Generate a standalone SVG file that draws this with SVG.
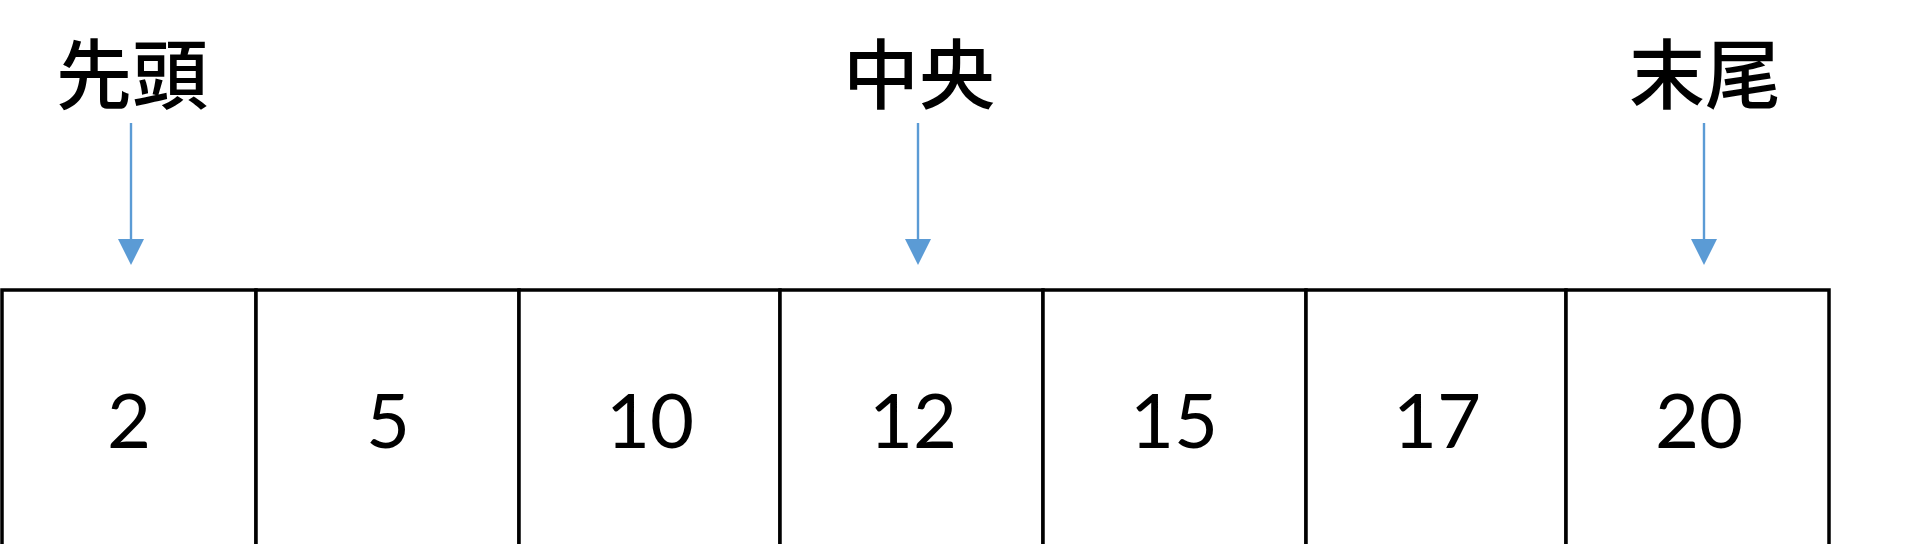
<svg xmlns="http://www.w3.org/2000/svg" width="1920" height="544" viewBox="0 0 1920 544">
<style>
.lbl{font-family:"Noto Sans CJK JP","Noto Sans CJK SC",sans-serif;font-size:76px;font-weight:500;fill:#000;text-anchor:middle}
.num{font-family:Lato,"Open Sans",sans-serif;font-size:76px;fill:#000;text-anchor:middle}
.cell{fill:#fff;stroke:#000;stroke-width:3.5}
.arr{stroke:#5B9BD5;stroke-width:2.4;fill:none}
.head{fill:#5B9BD5}
</style>
<rect width="1920" height="544" fill="#fff"/>
<g id="cells">
<g id="c1"><rect class="cell" x="2" y="290" width="254" height="270"/><text class="num" x="129" y="448">2</text></g>
<g id="c2"><rect class="cell" x="256" y="290" width="263" height="270"/><text class="num" x="388" y="448">5</text></g>
<g id="c3"><rect class="cell" x="519" y="290" width="261" height="270"/><text class="num" x="650" y="448">10</text></g>
<g id="c4"><rect class="cell" x="780" y="290" width="263" height="270"/><text class="num" x="913" y="448">12</text></g>
<g id="c5"><rect class="cell" x="1043" y="290" width="263" height="270"/><text class="num" x="1174" y="448">15</text></g>
<g id="c6"><rect class="cell" x="1306" y="290" width="260" height="270"/><text class="num" x="1437" y="448">17</text></g>
<g id="c7"><rect class="cell" x="1566" y="290" width="263" height="270"/><text class="num" x="1699" y="448">20</text></g>
</g>
<g id="labels">
<g id="head-label"><text class="lbl" x="132" y="103">先頭</text></g>
<g id="mid-label"><text class="lbl" x="919" y="103">中央</text></g>
<g id="tail-label"><text class="lbl" x="1705" y="103">末尾</text></g>
</g>
<g id="connectors">
<line class="arr" x1="131" y1="123" x2="131" y2="242"/>
<polygon class="head" points="118,239 144,239 131,265"/>
<line class="arr" x1="918" y1="123" x2="918" y2="242"/>
<polygon class="head" points="905,239 931,239 918,265"/>
<line class="arr" x1="1704" y1="123" x2="1704" y2="242"/>
<polygon class="head" points="1691,239 1717,239 1704,265"/>
</g>
</svg>
